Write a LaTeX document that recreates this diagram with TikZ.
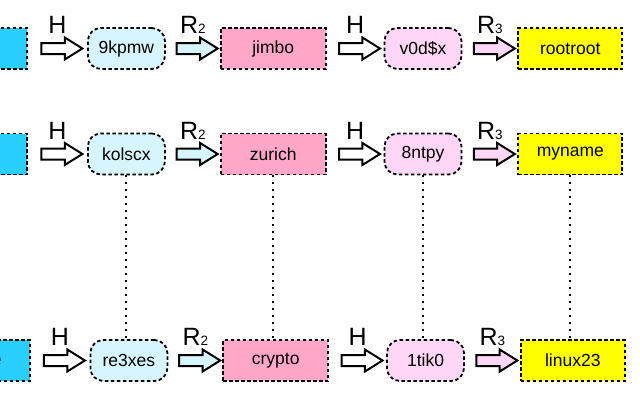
\documentclass[tikz,border=0pt]{standalone}
\usepackage{fontspec}
\setmainfont{Liberation Sans}
\usetikzlibrary{positioning, shapes.arrows}
\definecolor{StartCyan}{RGB}{41, 208, 255}
\definecolor{PaleBlue}{RGB}{214, 245, 253}
\definecolor{RosePink}{RGB}{255, 166, 201}
\definecolor{PalePink}{RGB}{255, 214, 245}
\definecolor{EndYellow}{RGB}{255, 255, 0}

\begin{document}
\begin{tikzpicture}[
    x=1pt, y=-1pt,
    pwbox/.style={rectangle, draw=black, line width=1.8pt, dash pattern=on 3.5pt off 2.5pt, minimum height=41pt, inner sep=0pt, font=\fontsize{17.5}{20}\selectfont},
    startbox/.style={pwbox, fill=StartCyan, minimum width=98pt},
    hashbox/.style={pwbox, rounded corners=13pt, minimum width=77pt},
    hashA/.style={hashbox, fill=PaleBlue},
    hashB/.style={hashbox, fill=PalePink},
    wordbox/.style={pwbox, fill=RosePink, minimum width=105pt},
    endbox/.style={pwbox, fill=EndYellow, minimum width=104pt},
    fat/.style={single arrow, draw=black, line width=2pt, inner xsep=0pt, inner ysep=4.5pt, single arrow head extend=5.5pt, single arrow tip angle=64, minimum height=41pt},
    hop/.style={fat, fill=white},
    redA/.style={fat, fill=PaleBlue},
    redB/.style={fat, fill=PalePink},
    lbl/.style={font=\fontsize{25}{27}\selectfont, inner sep=0pt, text depth=0pt},
    link/.style={line width=2pt, dash pattern=on 2pt off 5pt}
  ]
    \useasboundingbox (0,0) rectangle (640,400);

    % first chain
    \node[startbox] (start1) at (-21.9, 48.5) {};
    \node[hashA, right=59pt of start1] (hashA1) {9kpmw};
    \node[wordbox, right=54pt of hashA1] (word1) {jimbo};
    \node[hashB, right=57pt of word1] (hashB1) {v0d\$x};
    \node[endbox, right=55pt of hashB1] (end1) {rootroot};

    \path (start1) -- node[hop] (h11) {} (hashA1);
    \path (hashA1) -- node[redA] (r21) {} (word1);
    \path (word1) -- node[hop] (h21) {} (hashB1);
    \path (hashB1) -- node[redB] (r31) {} (end1);
    \node[lbl, above=8pt of h11] (lh11) {H};
    \node[lbl, above=8pt of r21] (lr21) {R{\fontsize{13.5}{14}\selectfont 2}};
    \node[lbl, above=8pt of h21] (lh21) {H};
    \node[lbl, above=8pt of r31] (lr31) {R{\fontsize{13.5}{14}\selectfont 3}};

    % second chain
    \node[startbox] (start2) at (-21.9, 154) {};
    \node[hashA, right=59pt of start2] (hashA2) {kolscx};
    \node[wordbox, right=54pt of hashA2] (word2) {zurich};
    \node[hashB, right=57pt of word2] (hashB2) {8ntpy};
    \node[endbox, right=55pt of hashB2] (end2) {myname};

    \path (start2) -- node[hop] (h12) {} (hashA2);
    \path (hashA2) -- node[redA] (r22) {} (word2);
    \path (word2) -- node[hop] (h22) {} (hashB2);
    \path (hashB2) -- node[redB] (r32) {} (end2);
    \node[lbl, above=8pt of h12] (lh12) {H};
    \node[lbl, above=8pt of r22] (lr22) {R{\fontsize{13.5}{14}\selectfont 2}};
    \node[lbl, above=8pt of h22] (lh22) {H};
    \node[lbl, above=8pt of r32] (lr32) {R{\fontsize{13.5}{14}\selectfont 3}};

    % third chain
    \node[startbox, text width=42pt, align=right, inner xsep=28pt] (start3) at (-19.4, 360.5) {e};
    \node[hashA, right=59pt of start3] (hashA3) {re3xes};
    \node[wordbox, right=54pt of hashA3] (word3) {crypto};
    \node[hashB, right=57pt of word3] (hashB3) {1tik0};
    \node[endbox, right=55pt of hashB3] (end3) {linux23};

    \path (start3) -- node[hop] (h13) {} (hashA3);
    \path (hashA3) -- node[redA] (r23) {} (word3);
    \path (word3) -- node[hop] (h23) {} (hashB3);
    \path (hashB3) -- node[redB] (r33) {} (end3);
    \node[lbl, above=8pt of h13] (lh13) {H};
    \node[lbl, above=8pt of r23] (lr23) {R{\fontsize{13.5}{14}\selectfont 2}};
    \node[lbl, above=8pt of h23] (lh23) {H};
    \node[lbl, above=8pt of r33] (lr33) {R{\fontsize{13.5}{14}\selectfont 3}};

    % dotted links between chains
    \draw[link] (hashA2.south) -- (hashA2.south |- hashA3.north);
    \draw[link] (word2.south) -- (word2.south |- word3.north);
    \draw[link] (hashB2.south) -- (hashB2.south |- hashB3.north);
    \draw[link] (end2.south) -- (end2.south |- end3.north);
\end{tikzpicture}
\end{document}
